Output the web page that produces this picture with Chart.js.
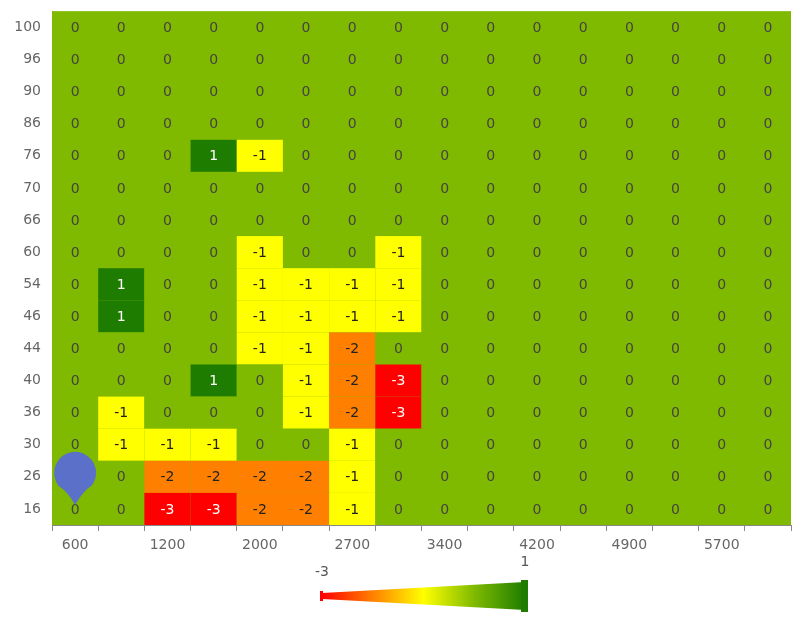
<!DOCTYPE html>
<html>
<head>
<meta charset="utf-8">
<script src="https://cdn.jsdelivr.net/npm/chart.js@4"></script>
<style>
body { margin: 0; background: #fff; }
#wrap { width: 800px; height: 623px; }
</style>
</head>
<body>
<div id="wrap"><canvas id="heat"></canvas></div>
<script>
const xLabels = ['600', '900', '1200', '1600', '2000', '2300', '2700', '3000', '3400', '3800', '4200', '4500', '4900', '5300', '5700', '6000'];
const yLabels = ['100', '96', '90', '86', '76', '70', '66', '60', '54', '46', '44', '40', '36', '30', '26', '16'];
const grid = [
    [0, 0, 0, 0, 0, 0, 0, 0, 0, 0, 0, 0, 0, 0, 0, 0],
    [0, 0, 0, 0, 0, 0, 0, 0, 0, 0, 0, 0, 0, 0, 0, 0],
    [0, 0, 0, 0, 0, 0, 0, 0, 0, 0, 0, 0, 0, 0, 0, 0],
    [0, 0, 0, 0, 0, 0, 0, 0, 0, 0, 0, 0, 0, 0, 0, 0],
    [0, 0, 0, 1, -1, 0, 0, 0, 0, 0, 0, 0, 0, 0, 0, 0],
    [0, 0, 0, 0, 0, 0, 0, 0, 0, 0, 0, 0, 0, 0, 0, 0],
    [0, 0, 0, 0, 0, 0, 0, 0, 0, 0, 0, 0, 0, 0, 0, 0],
    [0, 0, 0, 0, -1, 0, 0, -1, 0, 0, 0, 0, 0, 0, 0, 0],
    [0, 1, 0, 0, -1, -1, -1, -1, 0, 0, 0, 0, 0, 0, 0, 0],
    [0, 1, 0, 0, -1, -1, -1, -1, 0, 0, 0, 0, 0, 0, 0, 0],
    [0, 0, 0, 0, -1, -1, -2, 0, 0, 0, 0, 0, 0, 0, 0, 0],
    [0, 0, 0, 1, 0, -1, -2, -3, 0, 0, 0, 0, 0, 0, 0, 0],
    [0, -1, 0, 0, 0, -1, -2, -3, 0, 0, 0, 0, 0, 0, 0, 0],
    [0, -1, -1, -1, 0, 0, -1, 0, 0, 0, 0, 0, 0, 0, 0, 0],
    [0, 0, -2, -2, -2, -2, -1, 0, 0, 0, 0, 0, 0, 0, 0, 0],
    [0, 0, -3, -3, -2, -2, -1, 0, 0, 0, 0, 0, 0, 0, 0, 0]
];
const markerCell = { x: '600', y: '26' };

const fills = { '1': '#1e7d00', '0': '#7fba00', '-1': '#ffff00', '-2': '#ff8000', '-3': '#ff0000' };
const inks = { '1': '#ffffff', '0': '#444444', '-1': '#222222', '-2': '#222222', '-3': '#ffffff' };

points = [];
for (let r = 0; r < yLabels.length; r++) {
    for (let c = 0; c < xLabels.length; c++) {
        points.push({ x: xLabels[c], y: yLabels[r], v: grid[r][c] });
    }
}

const cellPlugin = {
    id: 'cells',
    beforeDatasetsDraw(chart) {
        const ctx = chart.ctx;
        const xs = chart.scales.x, ys = chart.scales.y;
        const w = xs.width / xLabels.length, h = ys.height / yLabels.length;
        ctx.save();
        ctx.fillStyle = fills['0'];
        ctx.fillRect(xs.left, ys.top, xs.width, ys.height);
        ctx.font = '14px "DejaVu Sans"';
        ctx.textAlign = 'center';
        ctx.textBaseline = 'middle';
        for (let p of points) {
            const cx = xs.getPixelForValue(xLabels.indexOf(p.x));
            const cy = ys.getPixelForValue(yLabels.indexOf(p.y));
            ctx.fillStyle = fills[p.v];
            ctx.fillRect(cx - w / 2, cy - h / 2, w, h);
        }
        for (let p of points) {
            const cx = xs.getPixelForValue(xLabels.indexOf(p.x));
            const cy = ys.getPixelForValue(yLabels.indexOf(p.y));
            ctx.fillStyle = inks[p.v];
            ctx.fillText(String(p.v), cx, cy + 1);
        }
        // marker
        const mx = xs.getPixelForValue(xLabels.indexOf(markerCell.x));
        const my = ys.getPixelForValue(yLabels.indexOf(markerCell.y));
        ctx.fillStyle = '#5b70c8';
        ctx.beginPath();
        ctx.arc(mx, my - 4, 21, Math.PI * 0.8, Math.PI * 0.2);
        ctx.quadraticCurveTo(mx + 8, my + 14, mx, my + 28);
        ctx.quadraticCurveTo(mx - 8, my + 14, mx - 17, my + 9);
        ctx.fill();
        // gradient legend
        const lx = 322, rx = 525, ly = 596;
        const g = ctx.createLinearGradient(lx, 0, rx, 0);
        g.addColorStop(0, '#ff0000');
        g.addColorStop(0.25, '#ff8000');
        g.addColorStop(0.5, '#ffff00');
        g.addColorStop(0.75, '#7fba00');
        g.addColorStop(1, '#1e7d00');
        ctx.fillStyle = g;
        ctx.beginPath();
        ctx.moveTo(lx, ly - 3);
        ctx.lineTo(rx, ly - 14);
        ctx.lineTo(rx, ly + 14);
        ctx.lineTo(lx, ly + 3);
        ctx.closePath();
        ctx.fill();
        ctx.fillStyle = '#1e7d00';
        ctx.fillRect(rx - 4, ly - 16, 7, 32);
        ctx.fillStyle = '#ff0000';
        ctx.fillRect(lx - 2, ly - 5, 3, 10);
        ctx.fillStyle = '#555';
        ctx.font = '14px "DejaVu Sans"';
        ctx.fillText('-3', lx, ly - 24);
        ctx.fillText('1', rx, ly - 34);
        ctx.restore();
    }
};

new Chart(document.getElementById('heat'), {
    type: 'scatter',
    data: {
        datasets: [{ data: points, pointRadius: 0 }]
    },
    plugins: [cellPlugin],
    options: {
        responsive: true,
        maintainAspectRatio: false,
        animation: false,
        layout: { padding: { top: 0, right: 9, bottom: 70, left: 0 } },
        plugins: { legend: { display: false }, tooltip: { enabled: false } },
        scales: {
            x: {
                type: 'category',
                labels: xLabels,
                offset: true,
                afterFit: s => { s.height = 28; },
                grid: { display: true, drawOnChartArea: false, offset: true, tickLength: 6, color: '#888' },
                border: { color: '#888' },
                ticks: {
                    color: '#666', font: { size: 14, family: 'DejaVu Sans' }, autoSkip: false, maxRotation: 0, padding: 6,
                    callback: (v, i) => i % 2 === 0 ? xLabels[i] : ''
                }
            },
            y: {
                type: 'category',
                labels: yLabels,
                offset: true,
                afterFit: s => { s.width = 52; },
                grid: { display: false, offset: true },
                border: { color: '#888' },
                ticks: { color: '#666', font: { size: 14, family: 'DejaVu Sans' }, autoSkip: false }
            }
        }
    }
});
</script>
</body>
</html>
